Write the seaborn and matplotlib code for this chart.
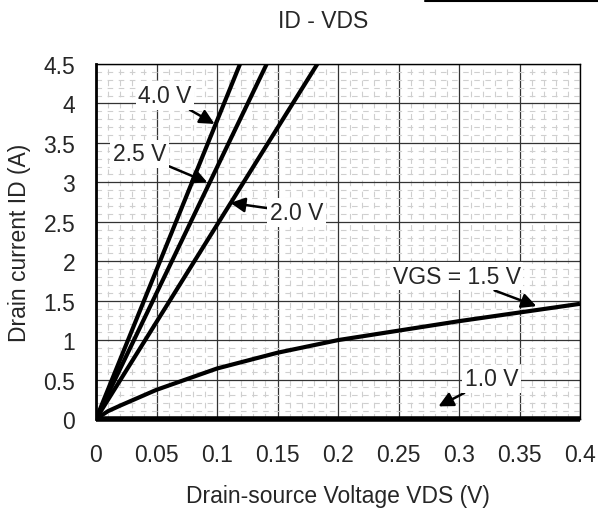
import numpy as np
import pandas as pd
import matplotlib.pyplot as plt
import seaborn as sns
from matplotlib.lines import Line2D
from matplotlib.ticker import MultipleLocator

# curve data
vds_line = [0.0, 0.1, 0.2]
id_40 = [0.0, 3.78, 7.56]
id_25 = [0.0, 3.19, 6.38]
id_20 = [0.0, 2.46, 4.92]
vds_15 = [0.0, 0.01, 0.02, 0.05, 0.1, 0.15, 0.2, 0.25, 0.3, 0.35, 0.4]
id_15 = [0.0, 0.10, 0.17, 0.37, 0.64, 0.84, 1.0, 1.12, 1.24, 1.35, 1.46]
vds_10 = [0.0, 0.4]
id_10 = [0.0, 0.0]

x_ticks = [0, 0.05, 0.1, 0.15, 0.2, 0.25, 0.3, 0.35, 0.4]
x_tick_labels = ["0", "0.05", "0.1", "0.15", "0.2", "0.25", "0.3", "0.35", "0.4"]
y_ticks = [0, 0.5, 1, 1.5, 2, 2.5, 3, 3.5, 4, 4.5]
y_tick_labels = ["0", "0.5", "1", "1.5", "2", "2.5", "3", "3.5", "4", "4.5"]

sns.set_style("white")
plt.rcParams["font.family"] = ["Liberation Sans", "DejaVu Sans"]
FS = 16.5

frames = []
for name, xs, ys in [("4.0 V", vds_line, id_40), ("2.5 V", vds_line, id_25),
                     ("2.0 V", vds_line, id_20), ("1.5 V", vds_15, id_15),
                     ("1.0 V", vds_10, id_10)]:
    frames.append(pd.DataFrame({"vds": xs, "id": ys, "vgs": name}))
df = pd.concat(frames, ignore_index=True)

fig = plt.figure(figsize=(5.98, 5.10), dpi=100)
ax = fig.add_axes([96 / 598, 90 / 510, 484 / 598, 355 / 510])

ax.xaxis.set_minor_locator(MultipleLocator(0.01))
ax.yaxis.set_minor_locator(MultipleLocator(0.1))
ax.grid(which="minor", color="#cfcfcf", linestyle=(0, (5, 5)), linewidth=0.8)
ax.grid(which="major", color="#333333", linestyle="-", linewidth=0.9)
ax.set_axisbelow(True)

sns.lineplot(data=df, x="vds", y="id", units="vgs", estimator=None, color="black",
             linewidth=3, sort=False, ax=ax, legend=False)
for line in ax.lines:
    line.set_solid_capstyle("butt")
    if np.max(line.get_ydata()) == 0:
        line.set_clip_on(False)
        line.set_linewidth(4)

ax.set_xlim(0, 0.4)
ax.set_ylim(0, 4.5)
ax.set_xticks(x_ticks)
ax.set_xticklabels(x_tick_labels)
ax.set_yticks(y_ticks)
ax.set_yticklabels(y_tick_labels)
ax.tick_params(axis="both", which="both", length=0, labelsize=FS)
ax.tick_params(axis="x", pad=17)
ax.tick_params(axis="y", pad=15)

for s in ["top", "right", "bottom"]:
    ax.spines[s].set_color("black")
    ax.spines[s].set_linewidth(1)
ax.spines["left"].set_color("black")
ax.spines["left"].set_linewidth(2)

ax.set_xlabel("Drain-source Voltage VDS (V)", fontsize=FS, labelpad=13)
ax.set_ylabel("Drain current ID (A)", fontsize=FS, labelpad=9)
ax.set_title("ID - VDS", fontsize=FS, pad=27, x=0.47)

box = dict(facecolor="white", edgecolor="none", pad=2)
arrow = dict(arrowstyle="-|>", color="black", lw=1.8, mutation_scale=22, shrinkA=0, shrinkB=0)
ax.annotate("4.0 V", xy=(0.098, 3.74), xytext=(0.057, 4.1), fontsize=FS,
            ha="center", va="center", bbox=box, arrowprops=arrow)
ax.annotate("2.5 V", xy=(0.092, 3.0), xytext=(0.036, 3.36), fontsize=FS,
            ha="center", va="center", bbox=box, arrowprops=arrow)
ax.annotate("2.0 V", xy=(0.111, 2.74), xytext=(0.166, 2.62), fontsize=FS,
            ha="center", va="center", bbox=box, arrowprops=arrow)
ax.annotate("VGS = 1.5 V", xy=(0.364, 1.43), xytext=(0.298, 1.81), fontsize=FS,
            ha="center", va="center", bbox=box, arrowprops=arrow)
ax.annotate("1.0 V", xy=(0.283, 0.16), xytext=(0.327, 0.51), fontsize=FS,
            ha="center", va="center", bbox=box, arrowprops=arrow)

fig.add_artist(Line2D([425 / 598, 1.0], [1 - 1.5 / 510, 1 - 1.5 / 510], color="black", lw=1.5))

fig.savefig("out.png", dpi=100)
